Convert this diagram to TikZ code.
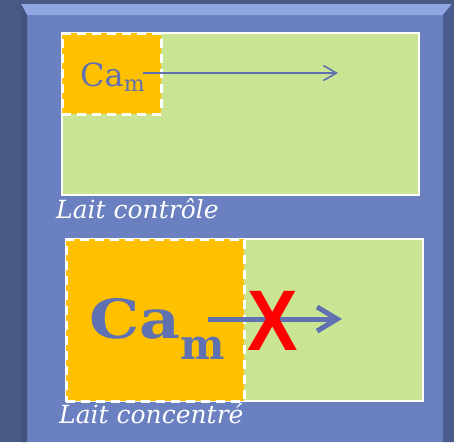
\documentclass[tikz,border=0pt]{standalone}
\usepackage{fontspec}
\setmainfont{DejaVu Serif}
\newfontfamily\xfont{Liberation Sans}
\usetikzlibrary{arrows.meta}
\definecolor{bgdark}{HTML}{485A84}
\definecolor{panel}{HTML}{6A80C0}
\definecolor{bevtop}{HTML}{8FA6E2}
\definecolor{bevleft}{HTML}{42537E}
\definecolor{bevright}{HTML}{4A5C8E}
\definecolor{milk}{HTML}{C9E594}
\definecolor{caorange}{HTML}{FFC000}
\definecolor{catext}{HTML}{5F71B0}
\tikzset{
  milkbox/.style={fill=milk, draw=white, line width=2pt},
  cabox/.style={fill=caorange, draw=white, line width=2.6pt, dash pattern=on 9pt off 6pt},
  label/.style={text=white, anchor=base west, inner sep=0pt},
  flow/.style={draw=catext}
}
\begin{document}
\begin{tikzpicture}[x=1pt,y=-1pt]
\useasboundingbox (0,0) rectangle (454,442);
\fill[bgdark] (0,0) rectangle (454,442);
% panel with bevel
\fill[panel] (21,4) rectangle (452,442);
\fill[bevtop] (21,4) -- (452,4) -- (443,15) -- (27,15) -- cycle;
\fill[bevleft] (21,4) -- (27,15) -- (27,442) -- (21,442) -- cycle;
\fill[bevright] (452,4) -- (443,15) -- (443,442) -- (452,442) -- cycle;
% top: control milk
\node[milkbox, minimum width=357pt, minimum height=162pt, inner sep=0pt] (m1) at (240.5,114) {};
\node[cabox, minimum width=99pt, minimum height=81pt, inner sep=0pt, anchor=north west] (c1) at (m1.north west) {};
\node[text=catext, font=\fontsize{32}{32}\selectfont, anchor=base west, inner sep=0pt] (t1) at (80,86) {Ca\raisebox{-5pt}{\fontsize{22}{22}\selectfont m}};
\coordinate (e1) at (338,73);
\draw[flow, line width=1.6pt, -{Straight Barb[length=13pt,width=15pt,line width=1.6pt]}] (t1.east |- e1) ++(-2,0) -- (e1);
\node[label, font=\itshape\fontsize{25}{25}\selectfont] (l1) at (56,218) {Lait contrôle};
% bottom: concentrated milk
\node[milkbox, minimum width=357pt, minimum height=162pt, inner sep=0pt] (m2) at (244.5,320) {};
\node[cabox, minimum width=178pt, minimum height=162pt, inner sep=0pt, anchor=north west] (c2) at (m2.north west) {};
\node[text=catext, font=\bfseries, anchor=base west, inner sep=0pt] (t2) at (89,338) {\scalebox{1.17}[1]{\fontsize{54}{54}\selectfont Ca}\raisebox{-21pt}{\fontsize{42}{42}\selectfont m}};
\coordinate (e2) at (342,319);
\coordinate (s2) at (208,319);
\draw[flow, line width=5pt, -{Straight Barb[length=20pt,width=24pt,line width=5pt]}] (s2) -- (e2);
\node[text=red, font=\xfont\bfseries, inner sep=0pt] (x2) at (273,321) {\scalebox{0.88}[1]{\fontsize{86}{86}\selectfont X}};
\node[label, font=\itshape\fontsize{25}{25}\selectfont] (l2) at (59,423) {Lait concentré};
\end{tikzpicture}
\end{document}
